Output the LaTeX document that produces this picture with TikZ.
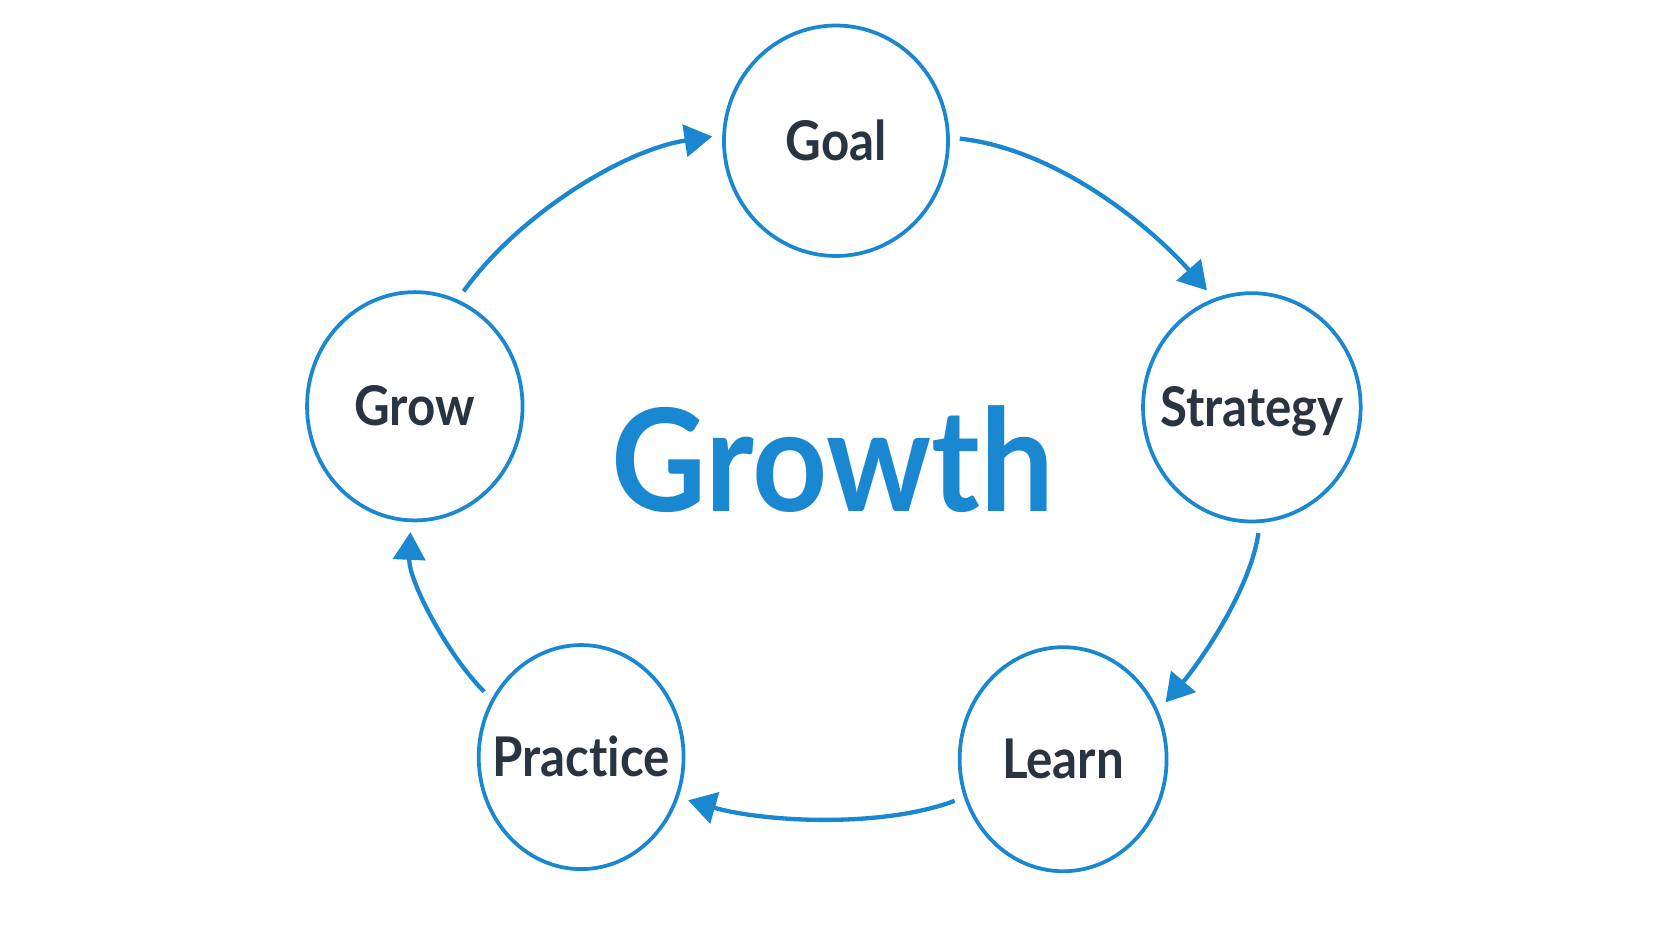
\documentclass[tikz,border=0pt]{standalone}
\usepackage{fontspec}
\setmainfont{Lato}[Ligatures=NoCommon]
\newfontfamily\labelfont{Lato}[Ligatures=NoCommon,FakeStretch=0.9]
\newfontfamily\titlefont{Lato}[Ligatures=NoCommon,FakeStretch=0.92]
\usetikzlibrary{shapes.geometric,arrows.meta}
\definecolor{cblue}{HTML}{1A88D0}
\definecolor{ctext}{HTML}{2A3441}
\begin{document}
\begin{tikzpicture}[x=0.01cm,y=-0.01cm,
  stage/.style={ellipse, draw=cblue, line width=1pt, inner sep=0pt, outer sep=0.11cm},
  stagetext/.style={text=ctext, font=\labelfont\fontsize{14.6pt}{18pt}\selectfont\bfseries,
    text height=1.42ex, text depth=0pt, inner sep=0pt, yshift=-0.055cm},
  flow/.style={draw=cblue, line width=1.15pt, -{Triangle[length=0.26cm,width=0.3cm]}}]
\useasboundingbox (0,0) rectangle (1568,882);
\fill[white] (0,0) rectangle (1568,882);
\node[stage, minimum width=2.10cm, minimum height=2.16cm, label={[stagetext]center:Goal}] (goal) at (784,132) {};
\node[stage, minimum width=2.04cm, minimum height=2.14cm, label={[stagetext]center:Strategy}] (strategy) at (1174,382) {};
\node[stage, minimum width=1.94cm, minimum height=2.10cm, label={[stagetext]center:Learn}] (learn) at (997,712) {};
\node[stage, minimum width=1.92cm, minimum height=2.10cm, label={[stagetext]center:Practice}] (practice) at (545,710) {};
\node[stage, minimum width=2.02cm, minimum height=2.14cm, label={[stagetext]center:Grow}] (grow) at (389,381) {};
\node[font=\titlefont\fontsize{38pt}{44pt}\selectfont\bfseries, text=cblue, anchor=base] (title) at (781,480) {Growth};
\draw[flow] (grow.67) .. controls +(50,-70) and +(-85,13) .. (goal.178);
\draw[flow] (goal.1) .. controls +(90,10) and +(-55,-62) .. (strategy.111);
\draw[flow] (strategy.273) .. controls +(-8,55) and +(30,-35) .. (learn.29);
\draw[flow] (learn.201) .. controls +(-70,26) and +(70,20) .. (practice.338);
\draw[flow] (practice.146) .. controls +(-35,-35) and +(-2,45) .. (grow.268);
\end{tikzpicture}
\end{document}
